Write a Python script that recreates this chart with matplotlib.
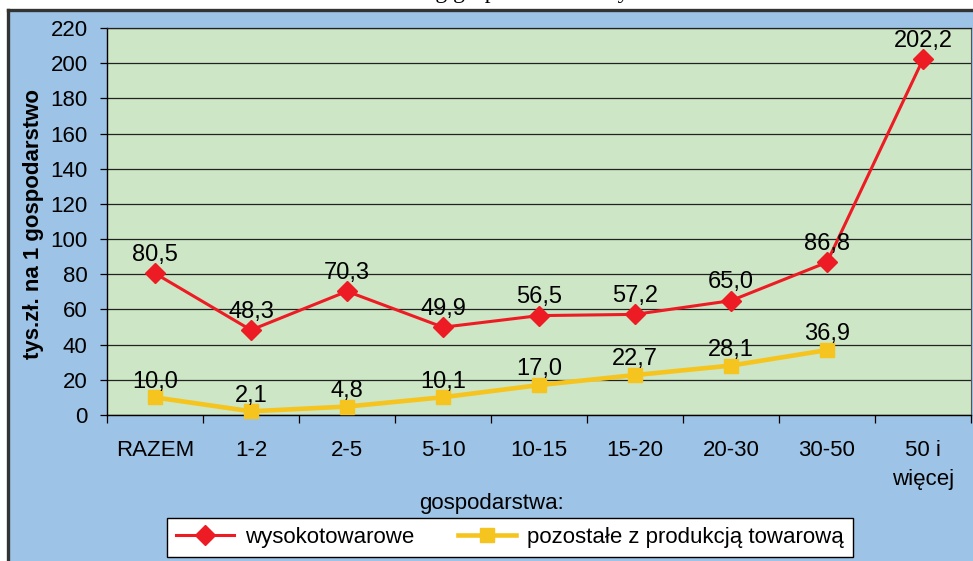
import matplotlib
matplotlib.use("Agg")
import matplotlib.pyplot as plt
from matplotlib.patches import Rectangle
from matplotlib.lines import Line2D

categories = ["RAZEM", "1-2", "2-5", "5-10", "10-15", "15-20", "20-30", "30-50", "50 i\nwięcej"]
wysokotowarowe = [80.5, 48.3, 70.3, 49.9, 56.5, 57.2, 65.0, 86.8, 202.2]
pozostale = [10.0, 2.1, 4.8, 10.1, 17.0, 22.7, 28.1, 36.9]
y_ticks = list(range(0, 221, 20))
series_names = ["wysokotowarowe", "pozostałe z produkcją towarową"]
y_label = "tys.zł. na 1 gospodarstwo"
x_label = "gospodarstwa:"
title_text = "Dochód według grup ekonomicznych"

BLUE = "#9DC3E6"
GREEN = "#CDE6C5"
RED = "#ED1C24"
YELLOW = "#F6C41E"
FS = 16
FS_LBL = 17

plt.rcParams['font.family'] = ['Liberation Sans', 'DejaVu Sans']

W, H = 973, 561
fig = plt.figure(figsize=(W / 100, H / 100), dpi=100)
fig.patch.set_facecolor("white")

# outer blue chart area with dark border (top & left)
fig.patches.append(Rectangle((8 / W, 0), 1, 1 - 10 / H, transform=fig.transFigure,
                             facecolor=BLUE, edgecolor="none", zorder=-10))
fig.lines.append(Line2D([8 / W, 1], [1 - 10 / H, 1 - 10 / H], transform=fig.transFigure,
                        color="#333333", lw=2.4, zorder=-9))
fig.lines.append(Line2D([8 / W, 8 / W], [0, 1 - 10 / H], transform=fig.transFigure,
                        color="#333333", lw=2.4, zorder=-9))

# partially cropped title (only descenders visible, as in the reference)
fig.text(0.488, 1.004, title_text, ha="center", va="baseline",
         family=["Liberation Serif", "DejaVu Serif"], fontsize=17)

ax = fig.add_axes([107 / W, (H - 415) / H, (971 - 107) / W, (415 - 28) / H])
ax.set_facecolor(GREEN)

x = list(range(len(categories)))
ax.plot(x[:len(wysokotowarowe)], wysokotowarowe, color=RED, lw=2.2, marker="D",
        markersize=10.5, markerfacecolor=RED, markeredgecolor=RED, zorder=4,
        label=series_names[0], clip_on=False)
ax.plot(x[:len(pozostale)], pozostale, color=YELLOW, lw=3.3, marker="s",
        markersize=10.5, markerfacecolor=YELLOW, markeredgecolor=YELLOW, zorder=3,
        label=series_names[1], clip_on=False)

def fmt(v):
    return f"{v:.1f}".replace(".", ",")

for xi, v in zip(x, wysokotowarowe):
    ax.annotate(fmt(v), (xi, v), xytext=(0, 9), textcoords="offset points",
                ha="center", va="baseline", fontsize=FS_LBL, zorder=6)
for xi, v in zip(x, pozostale):
    ax.annotate(fmt(v), (xi, v), xytext=(0, 7), textcoords="offset points",
                ha="center", va="baseline", fontsize=FS_LBL, zorder=6)

ax.set_xlim(-0.5, len(categories) - 0.5)
ax.set_ylim(0, 220)
ax.set_yticks(y_ticks)
ax.set_yticklabels([str(t) for t in y_ticks], fontsize=FS)
ax.yaxis.grid(True, color="#222222", lw=0.9)
ax.set_axisbelow(True)
ax.tick_params(axis="y", direction="out", length=5, width=0.9, pad=9, colors="black")

ax.set_xticks(x)
ax.set_xticklabels(categories, fontsize=FS, linespacing=1.5, va="top")
ax.tick_params(axis="x", which="major", length=0, pad=18)
ax.set_xticks([i - 0.5 for i in range(len(categories) + 1)], minor=True)
ax.tick_params(axis="x", which="minor", direction="out", length=6, width=0.9)

for s in ["left", "bottom"]:
    ax.spines[s].set_color("black")
    ax.spines[s].set_linewidth(1.0)
ax.spines["top"].set_color("#222222")
ax.spines["right"].set_color("#555555")
ax.spines["top"].set_linewidth(0.9)
ax.spines["right"].set_linewidth(0.8)

fig.text(34 / W, 1 - 224 / H, y_label, rotation=90, ha="center", va="center",
         fontsize=16, fontweight="bold")
fig.text(491 / W, 1 - 504 / H, x_label, ha="center", va="center", fontsize=FS)

leg = fig.legend(loc="center", bbox_to_anchor=(510 / W, 1 - 537.5 / H), ncol=2,
                 fontsize=FS, frameon=True, fancybox=False, handlelength=2.6,
                 columnspacing=2.0, borderpad=0.4, handletextpad=0.5, framealpha=1)
leg.get_frame().set_edgecolor("black")
leg.get_frame().set_linewidth(1.0)
leg.get_frame().set_facecolor("white")

fig.savefig("out.png", dpi=100, facecolor="white")
